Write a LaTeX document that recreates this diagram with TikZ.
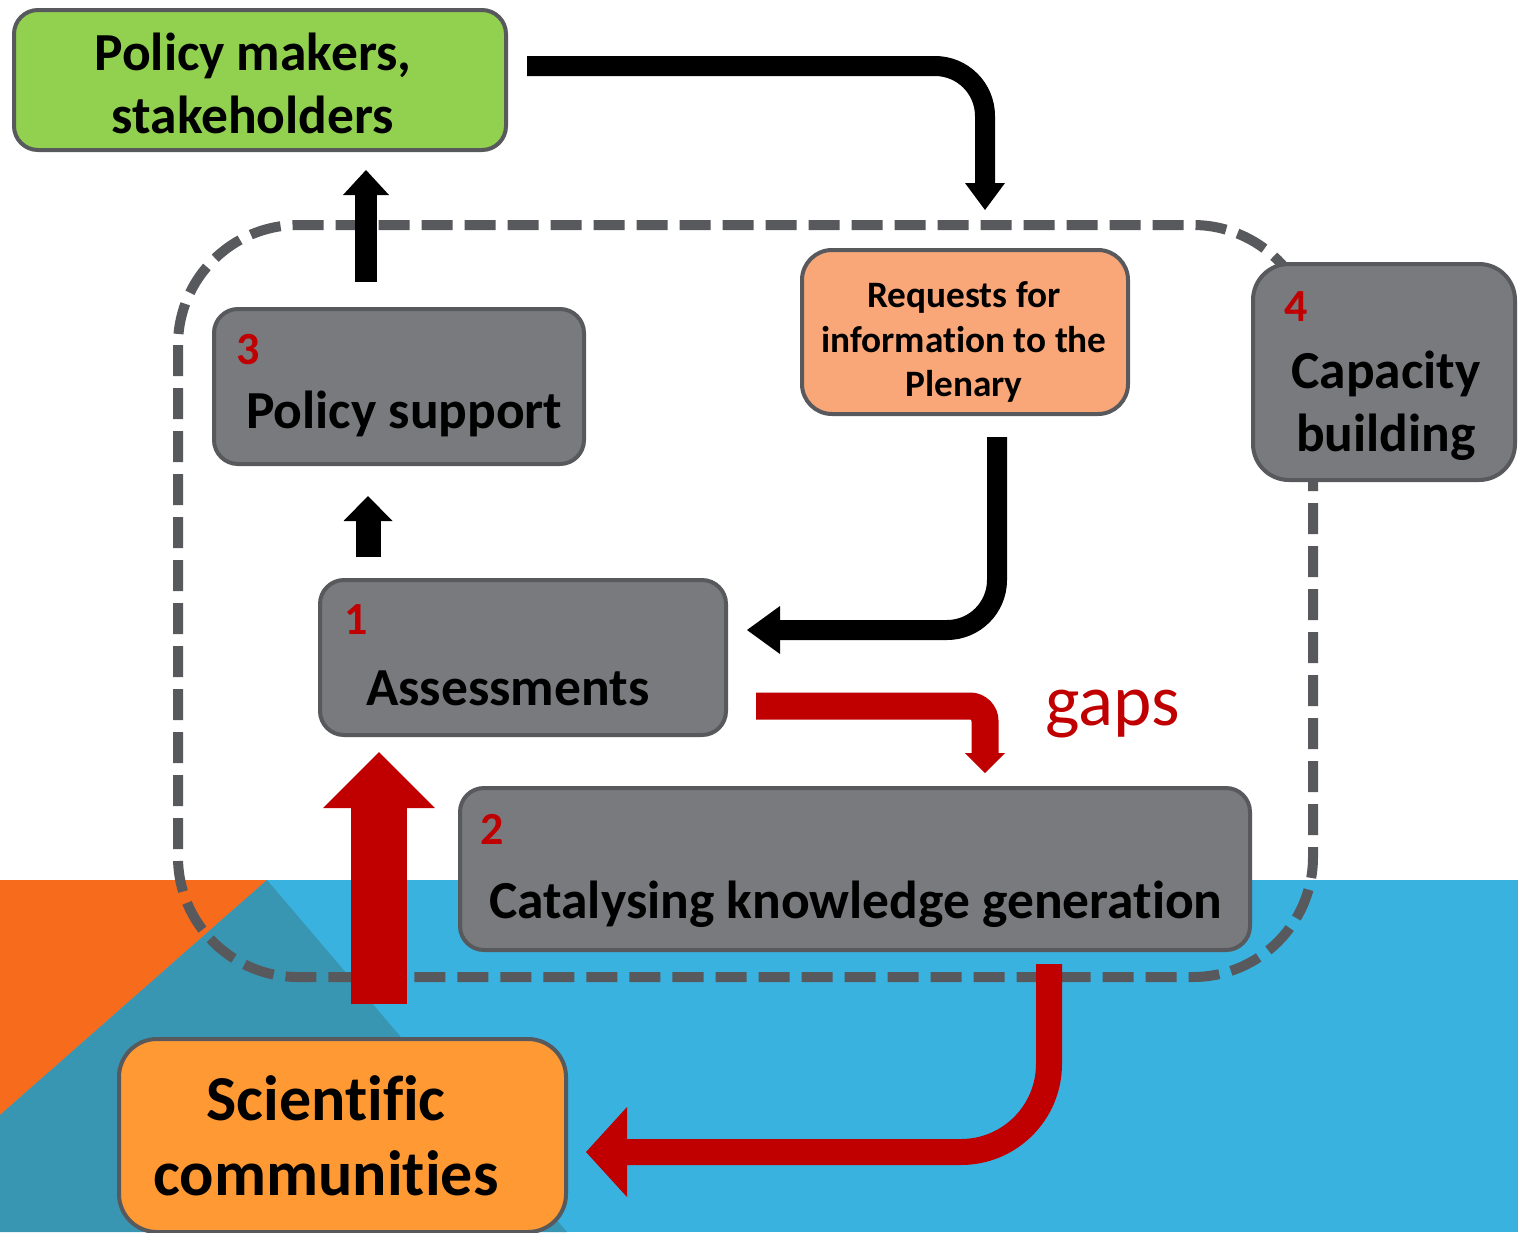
\documentclass[tikz,border=0pt]{standalone}
\usepackage{fontspec}
\setmainfont[Ligatures=NoCommon]{Carlito}
\usetikzlibrary{arrows.meta}
\definecolor{boxgray}{HTML}{797A7E}
\definecolor{edgegray}{HTML}{58595C}
\definecolor{pmgreen}{HTML}{92D050}
\definecolor{reqorange}{HTML}{F9A778}
\definecolor{sciorange}{HTML}{FF9934}
\definecolor{darkred}{HTML}{C00000}
\definecolor{bgblue}{HTML}{3AB2E0}
\definecolor{bgteal}{HTML}{3996B2}
\definecolor{bgorange}{HTML}{F76B1D}
\begin{document}
\begin{tikzpicture}[x=1pt,y=-1pt,
  panel/.style={draw=edgegray, line width=4pt, rounded corners=24pt, inner sep=0pt, outer sep=0pt},
  num/.style={text=darkred, font=\fontsize{46}{52}\selectfont\bfseries, inner sep=0pt, anchor=base west},
  lbl/.style={font=\fontsize{53.5}{62}\selectfont\bfseries, inner sep=0pt},
  reqlbl/.style={font=\fontsize{37.3}{44}\selectfont\bfseries, inner sep=0pt, anchor=base},
  scilbl/.style={font=\fontsize{64}{76}\selectfont\bfseries, inner sep=0pt, anchor=base},
  gapslbl/.style={text=darkred, font=\fontsize{73}{86}\selectfont, inner sep=0pt, anchor=base west},
  frame/.style={draw=edgegray, line width=10pt, dash pattern=on 31pt off 12pt, rounded corners=120pt},
  blackarrow/.style={draw=black, line width=#1},
  redarrow/.style={draw=darkred, line width=#1}
]
% background
\fill[white] (0,0) rectangle (1518,1232);
\fill[bgblue] (0,880) rectangle (1518,1232);
\fill[bgorange] (0,880) -- (267,880) -- (0,1115) -- cycle;
\fill[bgteal] (267,880) -- (567,1232) -- (0,1232) -- (0,1115) -- cycle;
\useasboundingbox (0,0) rectangle (1518,1232);

% dashed frame
\draw[frame] (178,225) rectangle (1313,977);

% boxes
\node[panel, fill=pmgreen, minimum width=492pt, minimum height=140pt] (pm) at (260,80) {};
\node[panel, fill=boxgray, minimum width=370pt, minimum height=155pt] (ps) at (399,386.5) {};
\node[panel, fill=reqorange, rounded corners=30pt, minimum width=326pt, minimum height=164pt] (rq) at (965,332) {};
\node[panel, fill=boxgray, rounded corners=36pt, minimum width=262pt, minimum height=216pt] (cb) at (1384,372) {};
\node[panel, fill=boxgray, minimum width=406pt, minimum height=155pt] (as) at (523,657.5) {};
\node[panel, fill=boxgray, minimum width=790pt, minimum height=162pt] (kg) at (855,869) {};
\node[panel, fill=sciorange, rounded corners=38pt, minimum width=447pt, minimum height=193pt] (sc) at (342.5,1135.5) {};

% texts
\node[lbl, anchor=base] (pmA) at (253,70) {Policy makers,};
\node[lbl, anchor=base] (pmB) at (253,133) {stakeholders};
\node[num] (n3) at (236,364) {3};
\node[lbl, anchor=base west] (psT) at (246,428) {Policy support};
\node[reqlbl] (rqA) at (964,307) {Requests for};
\node[reqlbl] (rqB) at (964,352) {information to the};
\node[reqlbl] (rqC) at (964,396) {Plenary};
\node[num] (n4) at (1284,321) {4};
\node[lbl, anchor=base] (cbA) at (1386,388) {Capacity};
\node[lbl, anchor=base] (cbB) at (1386,451) {building};
\node[num] (n1) at (344,634) {1};
\node[lbl, anchor=base west] (asT) at (366,705) {Assessments};
\node[num] (n2) at (480,844) {2};
\node[lbl, anchor=base west] (kgT) at (489,918) {Catalysing knowledge generation};
\node[scilbl] (scA) at (326,1120) {Scientific};
\node[scilbl] (scB) at (326,1195) {communities};
\node[gapslbl] (gaps) at (1045,725) {gaps};

% connector end points
\coordinate (a1s) at (527,66);  \coordinate (a1e) at (985,210);
\coordinate (a2s) at (366,282); \coordinate (a2e) at (366,170);
\coordinate (a3s) at (368,557); \coordinate (a3e) at (368,496);
\coordinate (a4s) at (997,437); \coordinate (a4e) at (747,630);
\coordinate (a5s) at (756,706); \coordinate (a5e) at (985,773);
\coordinate (a6s) at (379,1004); \coordinate (a6e) at (379,752);
\coordinate (a7s) at (1049,964); \coordinate (a7e) at (586,1152);

% connectors
\draw[blackarrow=20pt, rounded corners=50pt, -{Triangle[width=40pt,length=27pt,line width=0pt]}] (a1s) -| (a1e);
\draw[blackarrow=22pt, -{Triangle[width=46pt,length=25pt,line width=0pt]}] (a2s) -- (a2e);
\draw[blackarrow=25pt, -{Triangle[width=49pt,length=25pt,line width=0pt]}] (a3s) -- (a3e);
\draw[blackarrow=20pt, rounded corners=50pt, -{Triangle[width=48pt,length=33pt,line width=0pt]}] (a4s) |- (a4e);
\draw[redarrow=27pt, rounded corners=15pt, -{Triangle[width=40pt,length=20pt,line width=0pt]}] (a5s) -| (a5e);
\draw[redarrow=56pt, -{Triangle[width=112pt,length=56pt,line width=0pt]}] (a6s) -- (a6e);
\draw[redarrow=26pt, rounded corners=88pt, -{Triangle[width=90pt,length=41pt,line width=0pt]}] (a7s) |- (a7e);
\end{tikzpicture}
\end{document}
